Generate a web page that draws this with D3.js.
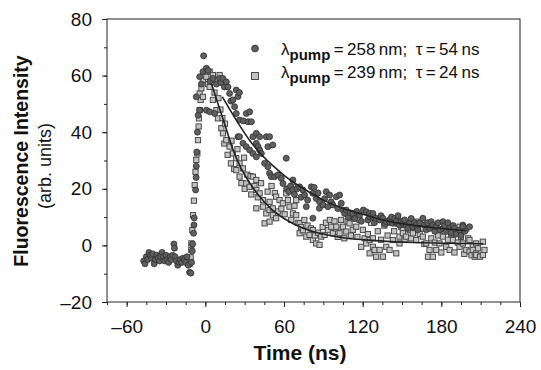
<!DOCTYPE html>
<html>
<head>
<meta charset="utf-8">
<script src="https://cdn.jsdelivr.net/npm/d3@7"></script>
<style>
  body { margin: 0; background: #fff; }
  svg { font-family: "Liberation Sans", Arial, Helvetica, sans-serif; }
</style>
</head>
<body>
<div id="chart"></div>
<script>
// 258 nm pump, tau = 54 ns (circles): [time ns, intensity]
const circles258 = [
  [-47,-5.5],[-46,-6.5],[-45,-4],[-44,-5],[-43,-2.5],[-42,-3.5],[-41,-4.5],[-40,-3],[-39,-6.5],[-38,-5],
  [-37,-3.5],[-36,-4.5],[-35,-5.5],[-34,-4],[-33,-2.5],[-32,-4],[-31,-5.5],[-30,-3.5],[-29,-5],[-28,-6],
  [-27,-4],[-26,-5],[-25,-3.5],[-24,0.5],[-23.5,-1],[-23,-4],[-22,-5.5],[-21,-7],[-20,-6],[-19,-5],
  [-18,-6],[-17,-4.5],[-16,-5],[-15,-6],[-14,-4],[-13,-7],[-12,-9.5],[-11,-9.8],[-10.5,-6],[-10,-2],
  [-9.7,0.5],[-9,4.3],[-8.7,7.2],[-8.5,9.7],[-7.4,19.6],[-7,24],[-6.9,28],[-6.5,33],[-6,40],[-5.5,46],
  [-6.9,52.5],[-4.3,47.8],[-4.3,59.6],[-3,57],[-1.8,61.4],[-1.3,67],[0.8,62.6],[0.8,47.8],[2.1,61.8],[3.3,47.2],
  [3.5,58],[5.8,59],[7.1,46.6],[8.5,57],[10.9,59],[12,57.5],[13.4,59],[14.5,56],[16,57.8],[17.3,56],
  [18.5,53.7],[19.5,51],[21,51.4],[22.3,49],[23.6,46.6],[23.6,54.9],[24.9,52.6],[26.1,44.3],[26,54],[24.9,38.4],
  [26.1,38.4],[28.7,36.1],[29,44],[31.2,34.9],[31.3,46.6],[32.5,43.7],[33.8,33.7],[33.8,47.2],[35.1,43.7],[36.3,32.5],
  [36.3,38.4],[38.9,31.3],[38.9,36.1],[38.9,39.6],[40.2,34.9],[41.4,33.7],[41.4,38.4],[42.7,32.5],[45.2,29],[46.5,38.4],
  [47.7,27.8],[47.7,34.9],[49,25.5],[49,38.4],[50.3,24.3],[51.5,35.5],[52.8,24.3],[55.3,24.9],[57.9,23.7],[59.2,21.9],
  [61.7,30.8],[62,20],[63.7,19],[65,21],[66.8,23.1],[66.8,19.6],[68,18],[70,20],[71.9,20.7],[73,17],
  [74.4,19.6],[75.7,17.8],[77,13.7],[78,16],[80.8,20.7],[82,18.4],[82,9.6],[83,20.5],[84.6,16.6],[86,18.5],
  [87.1,15.4],[87,13.1],[89.7,14.3],[91,16.5],[92.2,19],[93.5,13.7],[94.8,17.8],[96,15.4],[97.3,14.3],[99.9,17.2],
  [101,13],[102.4,17.8],[103.7,14.9],[105,12.5],[106.2,11.3],[107.5,12.5],[109,10],[110.5,11.5],[112.5,11.3],[114,9.5],
  [115.5,12],[117.6,10.7],[119,8.5],[120.5,12.5],[122.7,11.9],[124,9],[125.3,11.3],[125.3,10.1],[127.8,10.1],[127.8,11.3],
  [129,8],[130.3,9.6],[132.9,9],[134,10.5],[135.4,9.6],[137,7.5],[138,8.4],[140.5,9],[140.5,8.4],[142,10],
  [143,7.8],[144.5,9.5],[145.6,7.8],[145.6,8.4],[147,10.5],[148.1,7.2],[149.4,8.4],[150.7,7.8],[152,9],[153.2,7.2],
  [154.5,6],[155.8,7.8],[157,9.5],[158.3,6.6],[159.5,8],[160.8,7.2],[162,5.5],[163.5,8],[165.9,9.6],[167.2,7.2],
  [168.5,5.5],[169.5,8],[171,6],[172.3,8.4],[173.5,7.2],[175,5],[176.1,6.6],[177.5,8],[179,5.5],[181.2,8.4],
  [181.2,6],[182.5,7],[184,5],[185,8],[186.3,6],[187.5,4.5],[189,7],[190,6],[191.5,4],[193.9,5.4],
  [195,3.5],[196.4,7.2],[196.4,6.6],[198,5],[201.5,6.6]
];

// 239 nm pump, tau = 24 ns (squares)
const squares239 = [
  [-13,-5],[-12,-6.5],[-11.2,-4.2],[-10.7,-1.6],[-10.7,0.7],[-9.9,5.4],[-9.4,10.7],[-8.7,15.8],[-8.1,21.3],[-7.5,26],
  [-6.9,30.2],[-6.1,32.5],[-5.6,37.2],[-5.1,42],[-4.9,44.9],[-4.3,47.8],[-3.6,51.4],[-4.3,53.7],[-1.8,52.5],[-3,55.5],
  [-1.8,58.4],[0.8,59.6],[2,57],[3.3,61.4],[3.3,56],[5.8,60.2],[5.8,51.4],[7,54],[8.4,58.4],[8.4,47.8],
  [9.6,44.9],[10.9,60.2],[10,52],[11.5,48],[12.2,41.4],[13,45],[13.4,39.6],[14.5,36],[15,43],[16,37.2],
  [17,32],[18.5,34.9],[19.5,29],[20,37],[21,32.5],[22,27],[23.6,30.8],[23.6,26.6],[24.5,34],[26.1,29],
  [26.1,24.3],[27.5,22],[28.7,27.2],[29.5,31],[30,20],[31.2,21.9],[32,25],[33.8,20.7],[34.5,24.5],[35,18],
  [36.3,24.3],[37.5,21],[38.9,19.6],[38.9,23.1],[38.9,13.1],[40,17],[41.4,18.4],[42.5,22],[44,16],[44,13.7],
  [45.2,7.8],[46.5,11.3],[47.5,19],[49,12.5],[49,8.4],[49,15.4],[50.5,21],[51.5,13.1],[51.5,10.7],[53,18.5],
  [54,17.2],[54,9.6],[55.5,12],[56.6,16],[58,13],[59.1,14.9],[60.5,11],[61.7,18.4],[63,16],[64.2,19.6],
  [64.2,13.7],[65.5,9],[66.8,20.7],[66.8,11.3],[68,14],[69.3,16],[69.3,10.7],[70.5,8],[71.9,7.8],[71.9,4.3],
  [73,6.5],[74.4,5.4],[75.5,9],[77,3.1],[78,7],[79.5,3.7],[80.5,6],[82,1.9],[82,5.4],[83.5,3.5],
  [84.6,0.7],[86,4.5],[87.1,0.2],[88.4,3.1],[89.5,6.5],[91,3.7],[92,8],[93.5,5.4],[95,9],[96,6.6],
  [97.3,4.3],[98.5,8.5],[99.9,6],[99.9,6.6],[101,3],[102.4,4.3],[103.5,9],[105,6.6],[106,2.5],[107.5,4.9],
  [108.5,8.5],[110,7.8],[111,3.5],[112.5,5.5],[113.5,9.5],[115.1,6.6],[116,3],[117.6,9],[118.9,-0.5],[120.2,5.5],
  [121.5,2.5],[122.7,0.7],[124,4],[125.3,1.9],[125.3,-2.8],[126.5,8],[127.8,-0.5],[127.8,2.5],[129.1,-1.6],[130.3,-4],
  [131.5,5],[132.9,-1.6],[134,2],[135.4,-4],[136.5,7],[138,-0.5],[139,3.5],[140.5,-1.6],[141.5,8],[143,1.9],
  [144,5],[145.6,-2.8],[146.5,9],[148.1,0.7],[148.1,3.1],[149.5,6.5],[150.7,5.4],[150.7,4.3],[150.7,8.4],[152,2],
  [153.2,3.1],[154.5,6.5],[155.8,5.4],[155.8,7.8],[157,2.5],[158.3,4.3],[159.5,6.5],[160.8,1.9],[160.8,8.4],[162.2,7.2],
  [163.5,4],[165.9,3.1],[165.9,6],[167,0.5],[168.5,0.7],[169.8,-4],[171,-1.6],[171,7.2],[172.3,2.5],[173.5,-4],
  [175,1],[176.1,-1.6],[176.1,6.6],[177.5,3.5],[178.6,0.7],[180,-2.5],[181.2,3.1],[182.5,5],[183.7,-0.5],[183.7,7.2],
  [185,2],[186.3,-1.6],[187.5,4],[188.8,1.9],[188.8,6],[190,-2.5],[191.4,4.3],[192.5,1],[193.9,-0.5],[193.9,6.6],
  [195,3],[196.4,0.7],[197.5,-3],[199,-1.6],[199,6],[200.5,2.5],[201.5,1.9],[201.5,-2.2],[203,-3.5],[204,0],
  [204,-1.6],[205.5,-4],[206.6,0.7],[206.6,-2.8],[206.6,-3.4],[208,-1],[209.5,-4],[211.7,1.3],[211.7,-3.4],[212.9,-1.6]
];

// fitted decay curves
const fit258 = [[13,52.5],[20,47],[26,42.5],[34,37],[42,32.5],[52,28],[62,24],[75,20],[90,16],[105,13],[120,11],[140,8.5],[160,7],[180,6],[199,5.2]];
const fit239 = [[4.6,57.3],[10,49.5],[15,42.5],[21,34],[27,27.5],[34,22],[41,17.5],[50,13],[60,9.5],[75,6],[90,4],[105,2.7],[130,1.7],[160,1],[212,0.6]];

const xTicks = [-60, 0, 60, 120, 180, 240];
const yTicks = [-20, 0, 20, 40, 60, 80];
const legendLabels = [
  { wl: '258', tau: '54' },
  { wl: '239', tau: '24' }
];

const width = 541, height = 370;
const margin = { left: 107, top: 19, right: 21, bottom: 68 };

const svg = d3.select('#chart').append('svg')
  .attr('width', width)
  .attr('height', height);

const x = d3.scaleLinear().domain([-75, 240]).range([margin.left, width - margin.right]);
const y = d3.scaleLinear().domain([-20, 80]).range([height - margin.bottom, margin.top]);

const fmt = d => d < 0 ? '\u2013' + Math.abs(d) : String(d);

// minor ticks
svg.append('g')
  .attr('transform', `translate(0,${y(-20)})`)
  .call(d3.axisBottom(x).tickValues(d3.range(-75, 241, 15)).tickSize(3).tickFormat(''))
  .call(g => g.select('.domain').remove());
svg.append('g')
  .attr('transform', `translate(${x(-75)},0)`)
  .call(d3.axisLeft(y).tickValues(d3.range(-20, 81, 10)).tickSize(3).tickFormat(''))
  .call(g => g.select('.domain').remove());

// major ticks + labels
const xAxis = svg.append('g')
  .attr('transform', `translate(0,${y(-20)})`)
  .call(d3.axisBottom(x).tickValues(xTicks).tickSize(5).tickPadding(13).tickFormat(fmt));
xAxis.select('.domain').remove();

const yAxis = svg.append('g')
  .attr('transform', `translate(${x(-75)},0)`)
  .call(d3.axisLeft(y).tickValues(yTicks).tickSize(5).tickPadding(10).tickFormat(fmt));
yAxis.select('.domain').remove();

svg.selectAll('.tick text')
  .style('font-size', '19px')
  .style('font-family', '"Liberation Sans", Arial, sans-serif')
  .attr('fill', '#111');
svg.selectAll('.tick line').attr('stroke', '#222');

// frame
svg.append('rect')
  .attr('x', x(-75)).attr('y', y(80))
  .attr('width', x(240) - x(-75)).attr('height', y(-20) - y(80))
  .attr('fill', 'none').attr('stroke', '#222').attr('stroke-width', 1);

// squares first, circles on top
svg.append('g').selectAll('rect')
  .data(squares239)
  .enter().append('rect')
  .attr('x', d => x(d[0]) - 2.6)
  .attr('y', d => y(d[1]) - 2.6)
  .attr('width', 5.2).attr('height', 5.2)
  .attr('fill', '#c4c4c4')
  .attr('stroke', '#4a4a4a')
  .attr('stroke-width', 1);

svg.append('g').selectAll('circle')
  .data(circles258)
  .enter().append('circle')
  .attr('cx', d => x(d[0]))
  .attr('cy', d => y(d[1]))
  .attr('r', 3)
  .attr('fill', '#5f5f5f')
  .attr('stroke', '#2e2e2e')
  .attr('stroke-width', 0.8);

// fit curves
const line = d3.line().x(d => x(d[0])).y(d => y(d[1])).curve(d3.curveMonotoneX);
[fit258, fit239].forEach(f => {
  svg.append('path')
    .attr('d', line(f))
    .attr('fill', 'none')
    .attr('stroke', '#222')
    .attr('stroke-width', 1.6);
});

// legend
const legend = svg.append('g');
legend.append('circle').attr('cx', 255).attr('cy', 48.5).attr('r', 3.4)
  .attr('fill', '#5f5f5f').attr('stroke', '#2e2e2e').attr('stroke-width', 0.8);
legend.append('rect').attr('x', 251.5).attr('y', 72.5).attr('width', 7).attr('height', 7)
  .attr('fill', '#c4c4c4').attr('stroke', '#4a4a4a');

legendLabels.forEach((l, i) => {
  const t = legend.append('text')
    .attr('x', 281)
    .attr('y', 55 + i * 23)
    .style('font-size', '17px')
    .attr('fill', '#111');
  t.append('tspan').text('\u03bb');
  t.append('tspan').attr('dy', 5).style('font-weight', 'bold').style('font-size', '15px').text('pump');
  t.append('tspan').attr('dy', -5).text('\u2009=\u2009' + l.wl + '\u2009nm;\u2002\u03c4\u2009=\u2009' + l.tau + '\u2009ns');
});

// axis titles
svg.append('text')
  .attr('x', 300).attr('y', 360)
  .attr('text-anchor', 'middle')
  .style('font-size', '21px').style('font-weight', 'bold')
  .attr('fill', '#111')
  .text('Time (ns)');

svg.append('text')
  .attr('transform', 'translate(28,161) rotate(-90)')
  .attr('text-anchor', 'middle')
  .style('font-size', '19.5px').style('font-weight', 'bold')
  .attr('fill', '#111')
  .text('Fluorescence Intensity');

svg.append('text')
  .attr('transform', 'translate(51,166) rotate(-90)')
  .attr('text-anchor', 'middle')
  .style('font-size', '18px')
  .attr('fill', '#111')
  .text('(arb. units)');
</script>
</body>
</html>
